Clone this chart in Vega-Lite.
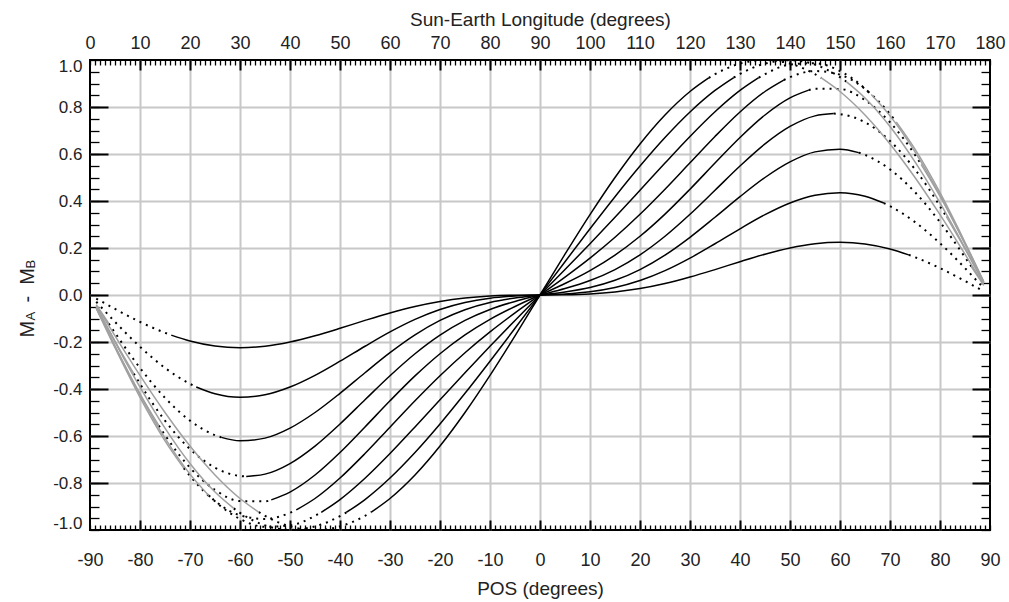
{
"$schema": "https://vega.github.io/schema/vega-lite/v6.json",
"width": 900, "height": 470,
"autosize": {"type": "none"},
"padding": {"left": 90, "top": 60, "right": 19, "bottom": 72},
"background": "white",
"config": {
 "view": {"stroke": "#000", "strokeWidth": 2},
 "axis": {"labelFont": "Liberation Sans", "titleFont": "Liberation Sans", "labelColor": "#222", "titleColor": "#222", "labelFontSize": 18, "titleFontSize": 19, "titleFontWeight": "normal", "domain": false, "grid": false, "ticks": false, "labels": false, "tickColor": "#000", "gridColor": "#c8c8c8", "gridWidth": 2, "title": null}
},
"datasets": {
 "solid": [
  {"curve":5,"pos":-73.75,"value":-0.1708},{"curve":5,"pos":-70,"value":-0.1958},{"curve":5,"pos":-65,"value":-0.2172},{"curve":5,"pos":-60,"value":-0.2243},{"curve":5,"pos":-55,"value":-0.2181},{"curve":5,"pos":-50,"value":-0.2002},{"curve":5,"pos":-45,"value":-0.1736},{"curve":5,"pos":-40,"value":-0.1418},{"curve":5,"pos":-35,"value":-0.1081},{"curve":5,"pos":-30,"value":-0.0763},{"curve":5,"pos":-25,"value":-0.0488},{"curve":5,"pos":-20,"value":-0.0274},{"curve":5,"pos":-15,"value":-0.0128},{"curve":5,"pos":-10,"value":-0.0044},{"curve":5,"pos":-5,"value":-0.0009},{"curve":5,"pos":0,"value":0},{"curve":5,"pos":5,"value":0.0009},{"curve":5,"pos":10,"value":0.0044},{"curve":5,"pos":15,"value":0.0128},{"curve":5,"pos":20,"value":0.0274},{"curve":5,"pos":25,"value":0.0488},{"curve":5,"pos":30,"value":0.0763},{"curve":5,"pos":35,"value":0.1081},{"curve":5,"pos":40,"value":0.1418},{"curve":5,"pos":45,"value":0.1736},{"curve":5,"pos":50,"value":0.2002},{"curve":5,"pos":55,"value":0.2181},{"curve":5,"pos":60,"value":0.2243},{"curve":5,"pos":65,"value":0.2172},{"curve":5,"pos":70,"value":0.1958},{"curve":5,"pos":73.75,"value":0.1708},
  {"curve":10,"pos":-68.75,"value":-0.3912},{"curve":10,"pos":-65,"value":-0.4203},{"curve":10,"pos":-60,"value":-0.4354},{"curve":10,"pos":-55,"value":-0.4247},{"curve":10,"pos":-50,"value":-0.3918},{"curve":10,"pos":-45,"value":-0.342},{"curve":10,"pos":-40,"value":-0.2818},{"curve":10,"pos":-35,"value":-0.2181},{"curve":10,"pos":-30,"value":-0.157},{"curve":10,"pos":-25,"value":-0.1037},{"curve":10,"pos":-20,"value":-0.0615},{"curve":10,"pos":-15,"value":-0.0318},{"curve":10,"pos":-10,"value":-0.0137},{"curve":10,"pos":-5,"value":-0.0044},{"curve":10,"pos":0,"value":0},{"curve":10,"pos":5,"value":0.0044},{"curve":10,"pos":10,"value":0.0137},{"curve":10,"pos":15,"value":0.0318},{"curve":10,"pos":20,"value":0.0615},{"curve":10,"pos":25,"value":0.1037},{"curve":10,"pos":30,"value":0.157},{"curve":10,"pos":35,"value":0.2181},{"curve":10,"pos":40,"value":0.2818},{"curve":10,"pos":45,"value":0.342},{"curve":10,"pos":50,"value":0.3918},{"curve":10,"pos":55,"value":0.4247},{"curve":10,"pos":60,"value":0.4354},{"curve":10,"pos":65,"value":0.4203},{"curve":10,"pos":68.75,"value":0.3912},
  {"curve":15,"pos":-63.75,"value":-0.6058},{"curve":15,"pos":-60,"value":-0.6205},{"curve":15,"pos":-55,"value":-0.6091},{"curve":15,"pos":-50,"value":-0.5664},{"curve":15,"pos":-45,"value":-0.5},{"curve":15,"pos":-40,"value":-0.4184},{"curve":15,"pos":-35,"value":-0.3307},{"curve":15,"pos":-30,"value":-0.2455},{"curve":15,"pos":-25,"value":-0.1698},{"curve":15,"pos":-20,"value":-0.1082},{"curve":15,"pos":-15,"value":-0.0625},{"curve":15,"pos":-10,"value":-0.0318},{"curve":15,"pos":-5,"value":-0.0128},{"curve":15,"pos":0,"value":0},{"curve":15,"pos":5,"value":0.0128},{"curve":15,"pos":10,"value":0.0318},{"curve":15,"pos":15,"value":0.0625},{"curve":15,"pos":20,"value":0.1082},{"curve":15,"pos":25,"value":0.1698},{"curve":15,"pos":30,"value":0.2455},{"curve":15,"pos":35,"value":0.3307},{"curve":15,"pos":40,"value":0.4184},{"curve":15,"pos":45,"value":0.5},{"curve":15,"pos":50,"value":0.5664},{"curve":15,"pos":55,"value":0.6091},{"curve":15,"pos":60,"value":0.6205},{"curve":15,"pos":63.75,"value":0.6058},
  {"curve":20,"pos":-58.75,"value":-0.7719},{"curve":20,"pos":-55,"value":-0.7623},{"curve":20,"pos":-50,"value":-0.7172},{"curve":20,"pos":-45,"value":-0.6428},{"curve":20,"pos":-40,"value":-0.5488},{"curve":20,"pos":-35,"value":-0.4457},{"curve":20,"pos":-30,"value":-0.3435},{"curve":20,"pos":-25,"value":-0.2499},{"curve":20,"pos":-20,"value":-0.1707},{"curve":20,"pos":-15,"value":-0.1082},{"curve":20,"pos":-10,"value":-0.0615},{"curve":20,"pos":-5,"value":-0.0274},{"curve":20,"pos":0,"value":0},{"curve":20,"pos":5,"value":0.0274},{"curve":20,"pos":10,"value":0.0615},{"curve":20,"pos":15,"value":0.1082},{"curve":20,"pos":20,"value":0.1707},{"curve":20,"pos":25,"value":0.2499},{"curve":20,"pos":30,"value":0.3435},{"curve":20,"pos":35,"value":0.4457},{"curve":20,"pos":40,"value":0.5488},{"curve":20,"pos":45,"value":0.6428},{"curve":20,"pos":50,"value":0.7172},{"curve":20,"pos":55,"value":0.7623},{"curve":20,"pos":58.75,"value":0.7719},
  {"curve":25,"pos":-53.75,"value":-0.8717},{"curve":25,"pos":-50,"value":-0.8386},{"curve":25,"pos":-45,"value":-0.766},{"curve":25,"pos":-40,"value":-0.6702},{"curve":25,"pos":-35,"value":-0.5615},{"curve":25,"pos":-30,"value":-0.4502},{"curve":25,"pos":-25,"value":-0.3443},{"curve":25,"pos":-20,"value":-0.2499},{"curve":25,"pos":-15,"value":-0.1698},{"curve":25,"pos":-10,"value":-0.1037},{"curve":25,"pos":-5,"value":-0.0488},{"curve":25,"pos":0,"value":0},{"curve":25,"pos":5,"value":0.0488},{"curve":25,"pos":10,"value":0.1037},{"curve":25,"pos":15,"value":0.1698},{"curve":25,"pos":20,"value":0.2499},{"curve":25,"pos":25,"value":0.3443},{"curve":25,"pos":30,"value":0.4502},{"curve":25,"pos":35,"value":0.5615},{"curve":25,"pos":40,"value":0.6702},{"curve":25,"pos":45,"value":0.766},{"curve":25,"pos":50,"value":0.8386},{"curve":25,"pos":53.75,"value":0.8717},
  {"curve":30,"pos":-48.75,"value":-0.9146},{"curve":30,"pos":-45,"value":-0.866},{"curve":30,"pos":-40,"value":-0.7788},{"curve":30,"pos":-35,"value":-0.6746},{"curve":30,"pos":-30,"value":-0.5625},{"curve":30,"pos":-25,"value":-0.4502},{"curve":30,"pos":-20,"value":-0.3435},{"curve":30,"pos":-15,"value":-0.2455},{"curve":30,"pos":-10,"value":-0.157},{"curve":30,"pos":-5,"value":-0.0763},{"curve":30,"pos":0,"value":0},{"curve":30,"pos":5,"value":0.0763},{"curve":30,"pos":10,"value":0.157},{"curve":30,"pos":15,"value":0.2455},{"curve":30,"pos":20,"value":0.3435},{"curve":30,"pos":25,"value":0.4502},{"curve":30,"pos":30,"value":0.5625},{"curve":30,"pos":35,"value":0.6746},{"curve":30,"pos":40,"value":0.7788},{"curve":30,"pos":45,"value":0.866},{"curve":30,"pos":48.75,"value":0.9146},
  {"curve":35,"pos":-43.75,"value":-0.9248},{"curve":35,"pos":-40,"value":-0.8704},{"curve":35,"pos":-35,"value":-0.7797},{"curve":35,"pos":-30,"value":-0.6746},{"curve":35,"pos":-25,"value":-0.5615},{"curve":35,"pos":-20,"value":-0.4457},{"curve":35,"pos":-15,"value":-0.3307},{"curve":35,"pos":-10,"value":-0.2181},{"curve":35,"pos":-5,"value":-0.1081},{"curve":35,"pos":0,"value":0},{"curve":35,"pos":5,"value":0.1081},{"curve":35,"pos":10,"value":0.2181},{"curve":35,"pos":15,"value":0.3307},{"curve":35,"pos":20,"value":0.4457},{"curve":35,"pos":25,"value":0.5615},{"curve":35,"pos":30,"value":0.6746},{"curve":35,"pos":35,"value":0.7797},{"curve":35,"pos":40,"value":0.8704},{"curve":35,"pos":43.75,"value":0.9248},
  {"curve":40,"pos":-38.75,"value":-0.9254},{"curve":40,"pos":-35,"value":-0.8704},{"curve":40,"pos":-30,"value":-0.7788},{"curve":40,"pos":-25,"value":-0.6702},{"curve":40,"pos":-20,"value":-0.5488},{"curve":40,"pos":-15,"value":-0.4184},{"curve":40,"pos":-10,"value":-0.2818},{"curve":40,"pos":-5,"value":-0.1418},{"curve":40,"pos":0,"value":0},{"curve":40,"pos":5,"value":0.1418},{"curve":40,"pos":10,"value":0.2818},{"curve":40,"pos":15,"value":0.4184},{"curve":40,"pos":20,"value":0.5488},{"curve":40,"pos":25,"value":0.6702},{"curve":40,"pos":30,"value":0.7788},{"curve":40,"pos":35,"value":0.8704},{"curve":40,"pos":38.75,"value":0.9254},
  {"curve":45,"pos":-33.75,"value":-0.9239},{"curve":45,"pos":-30,"value":-0.866},{"curve":45,"pos":-25,"value":-0.766},{"curve":45,"pos":-20,"value":-0.6428},{"curve":45,"pos":-15,"value":-0.5},{"curve":45,"pos":-10,"value":-0.342},{"curve":45,"pos":-5,"value":-0.1736},{"curve":45,"pos":0,"value":0},{"curve":45,"pos":5,"value":0.1736},{"curve":45,"pos":10,"value":0.342},{"curve":45,"pos":15,"value":0.5},{"curve":45,"pos":20,"value":0.6428},{"curve":45,"pos":25,"value":0.766},{"curve":45,"pos":30,"value":0.866},{"curve":45,"pos":33.75,"value":0.9239}
 ],
 "dotted": [
  {"curve":5,"side":"pos","pos":73.75,"value":0.1708},{"curve":5,"side":"pos","pos":75,"value":0.1608},{"curve":5,"side":"pos","pos":80,"value":0.1144},{"curve":5,"side":"pos","pos":85,"value":0.0593},{"curve":5,"side":"pos","pos":88.75,"value":0.0151},
  {"curve":5,"side":"neg","pos":-73.75,"value":-0.1708},{"curve":5,"side":"neg","pos":-75,"value":-0.1608},{"curve":5,"side":"neg","pos":-80,"value":-0.1144},{"curve":5,"side":"neg","pos":-85,"value":-0.0593},{"curve":5,"side":"neg","pos":-88.75,"value":-0.0151},
  {"curve":10,"side":"pos","pos":68.75,"value":0.3912},{"curve":10,"side":"pos","pos":70,"value":0.3781},{"curve":10,"side":"pos","pos":75,"value":0.3102},{"curve":10,"side":"pos","pos":80,"value":0.2203},{"curve":10,"side":"pos","pos":85,"value":0.1144},{"curve":10,"side":"pos","pos":88.75,"value":0.0289},
  {"curve":10,"side":"neg","pos":-68.75,"value":-0.3912},{"curve":10,"side":"neg","pos":-70,"value":-0.3781},{"curve":10,"side":"neg","pos":-75,"value":-0.3102},{"curve":10,"side":"neg","pos":-80,"value":-0.2203},{"curve":10,"side":"neg","pos":-85,"value":-0.1144},{"curve":10,"side":"neg","pos":-88.75,"value":-0.0289},
  {"curve":15,"side":"pos","pos":63.75,"value":0.6058},{"curve":15,"side":"pos","pos":65,"value":0.5962},{"curve":15,"side":"pos","pos":70,"value":0.5346},{"curve":15,"side":"pos","pos":75,"value":0.4375},{"curve":15,"side":"pos","pos":80,"value":0.3102},{"curve":15,"side":"pos","pos":85,"value":0.1608},{"curve":15,"side":"pos","pos":86.25,"value":0.1213},
  {"curve":15,"side":"neg","pos":-63.75,"value":-0.6058},{"curve":15,"side":"neg","pos":-65,"value":-0.5962},{"curve":15,"side":"neg","pos":-70,"value":-0.5346},{"curve":15,"side":"neg","pos":-75,"value":-0.4375},{"curve":15,"side":"neg","pos":-80,"value":-0.3102},{"curve":15,"side":"neg","pos":-85,"value":-0.1608},{"curve":15,"side":"neg","pos":-86.25,"value":-0.1213},
  {"curve":20,"side":"pos","pos":58.75,"value":0.7719},{"curve":20,"side":"pos","pos":60,"value":0.7699},{"curve":20,"side":"pos","pos":65,"value":0.7349},{"curve":20,"side":"pos","pos":70,"value":0.6557},{"curve":20,"side":"pos","pos":75,"value":0.5346},{"curve":20,"side":"pos","pos":80,"value":0.3781},{"curve":20,"side":"pos","pos":81.25,"value":0.3345},
  {"curve":20,"side":"neg","pos":-58.75,"value":-0.7719},{"curve":20,"side":"neg","pos":-60,"value":-0.7699},{"curve":20,"side":"neg","pos":-65,"value":-0.7349},{"curve":20,"side":"neg","pos":-70,"value":-0.6557},{"curve":20,"side":"neg","pos":-75,"value":-0.5346},{"curve":20,"side":"neg","pos":-80,"value":-0.3781},{"curve":20,"side":"neg","pos":-81.25,"value":-0.3345},
  {"curve":25,"side":"pos","pos":53.75,"value":0.8717},{"curve":25,"side":"pos","pos":55,"value":0.8781},{"curve":25,"side":"pos","pos":60,"value":0.8766},{"curve":25,"side":"pos","pos":65,"value":0.8293},{"curve":25,"side":"pos","pos":70,"value":0.7349},{"curve":25,"side":"pos","pos":75,"value":0.5962},{"curve":25,"side":"pos","pos":76.25,"value":0.5554},
  {"curve":25,"side":"neg","pos":-53.75,"value":-0.8717},{"curve":25,"side":"neg","pos":-55,"value":-0.8781},{"curve":25,"side":"neg","pos":-60,"value":-0.8766},{"curve":25,"side":"neg","pos":-65,"value":-0.8293},{"curve":25,"side":"neg","pos":-70,"value":-0.7349},{"curve":25,"side":"neg","pos":-75,"value":-0.5962},{"curve":25,"side":"neg","pos":-76.25,"value":-0.5554},
  {"curve":30,"side":"pos","pos":48.75,"value":0.9146},{"curve":30,"side":"pos","pos":50,"value":0.9268},{"curve":30,"side":"pos","pos":55,"value":0.953},{"curve":30,"side":"pos","pos":60,"value":0.9375},{"curve":30,"side":"pos","pos":65,"value":0.8766},{"curve":30,"side":"pos","pos":70,"value":0.7699},{"curve":30,"side":"pos","pos":71.25,"value":0.7363},
  {"curve":30,"side":"neg","pos":-48.75,"value":-0.9146},{"curve":30,"side":"neg","pos":-50,"value":-0.9268},{"curve":30,"side":"neg","pos":-55,"value":-0.953},{"curve":30,"side":"neg","pos":-60,"value":-0.9375},{"curve":30,"side":"neg","pos":-65,"value":-0.8766},{"curve":30,"side":"neg","pos":-70,"value":-0.7699},{"curve":30,"side":"neg","pos":-71.25,"value":-0.7363},
  {"curve":35,"side":"pos","pos":43.75,"value":0.9248},{"curve":35,"side":"pos","pos":45,"value":0.9397},{"curve":35,"side":"pos","pos":50,"value":0.9804},{"curve":35,"side":"pos","pos":55,"value":0.9863},{"curve":35,"side":"pos","pos":60,"value":0.953},{"curve":35,"side":"pos","pos":65,"value":0.8781},{"curve":35,"side":"pos","pos":66.25,"value":0.8529},
  {"curve":35,"side":"neg","pos":-43.75,"value":-0.9248},{"curve":35,"side":"neg","pos":-45,"value":-0.9397},{"curve":35,"side":"neg","pos":-50,"value":-0.9804},{"curve":35,"side":"neg","pos":-55,"value":-0.9863},{"curve":35,"side":"neg","pos":-60,"value":-0.953},{"curve":35,"side":"neg","pos":-65,"value":-0.8781},{"curve":35,"side":"neg","pos":-66.25,"value":-0.8529},
  {"curve":40,"side":"pos","pos":38.75,"value":0.9254},{"curve":40,"side":"pos","pos":40,"value":0.9406},{"curve":40,"side":"pos","pos":45,"value":0.9848},{"curve":40,"side":"pos","pos":50,"value":0.999},{"curve":40,"side":"pos","pos":55,"value":0.9804},{"curve":40,"side":"pos","pos":60,"value":0.9268},{"curve":40,"side":"pos","pos":61.25,"value":0.9081},
  {"curve":40,"side":"neg","pos":-38.75,"value":-0.9254},{"curve":40,"side":"neg","pos":-40,"value":-0.9406},{"curve":40,"side":"neg","pos":-45,"value":-0.9848},{"curve":40,"side":"neg","pos":-50,"value":-0.999},{"curve":40,"side":"neg","pos":-55,"value":-0.9804},{"curve":40,"side":"neg","pos":-60,"value":-0.9268},{"curve":40,"side":"neg","pos":-61.25,"value":-0.9081},
  {"curve":45,"side":"pos","pos":33.75,"value":0.9239},{"curve":45,"side":"pos","pos":35,"value":0.9397},{"curve":45,"side":"pos","pos":40,"value":0.9848},{"curve":45,"side":"pos","pos":45,"value":1},{"curve":45,"side":"pos","pos":50,"value":0.9848},{"curve":45,"side":"pos","pos":55,"value":0.9397},{"curve":45,"side":"pos","pos":56.25,"value":0.9239},
  {"curve":45,"side":"neg","pos":-33.75,"value":-0.9239},{"curve":45,"side":"neg","pos":-35,"value":-0.9397},{"curve":45,"side":"neg","pos":-40,"value":-0.9848},{"curve":45,"side":"neg","pos":-45,"value":-1},{"curve":45,"side":"neg","pos":-50,"value":-0.9848},{"curve":45,"side":"neg","pos":-55,"value":-0.9397},{"curve":45,"side":"neg","pos":-56.25,"value":-0.9239}
 ],
 "gray": [
  {"curve":15,"side":"pos","pos":86.25,"value":0.1213},{"curve":15,"side":"pos","pos":88.75,"value":0.0407},
  {"curve":15,"side":"neg","pos":-86.25,"value":-0.1213},{"curve":15,"side":"neg","pos":-88.75,"value":-0.0407},
  {"curve":20,"side":"pos","pos":81.25,"value":0.3345},{"curve":20,"side":"pos","pos":85,"value":0.1958},{"curve":20,"side":"pos","pos":88.75,"value":0.0495},
  {"curve":20,"side":"neg","pos":-81.25,"value":-0.3345},{"curve":20,"side":"neg","pos":-85,"value":-0.1958},{"curve":20,"side":"neg","pos":-88.75,"value":-0.0495},
  {"curve":25,"side":"pos","pos":76.25,"value":0.5554},{"curve":25,"side":"pos","pos":80,"value":0.4203},{"curve":25,"side":"pos","pos":85,"value":0.2172},{"curve":25,"side":"pos","pos":88.75,"value":0.0549},
  {"curve":25,"side":"neg","pos":-76.25,"value":-0.5554},{"curve":25,"side":"neg","pos":-80,"value":-0.4203},{"curve":25,"side":"neg","pos":-85,"value":-0.2172},{"curve":25,"side":"neg","pos":-88.75,"value":-0.0549},
  {"curve":30,"side":"pos","pos":71.25,"value":0.7363},{"curve":30,"side":"pos","pos":75,"value":0.6205},{"curve":30,"side":"pos","pos":80,"value":0.4354},{"curve":30,"side":"pos","pos":85,"value":0.2243},{"curve":30,"side":"pos","pos":88.75,"value":0.0567},
  {"curve":30,"side":"neg","pos":-71.25,"value":-0.7363},{"curve":30,"side":"neg","pos":-75,"value":-0.6205},{"curve":30,"side":"neg","pos":-80,"value":-0.4354},{"curve":30,"side":"neg","pos":-85,"value":-0.2243},{"curve":30,"side":"neg","pos":-88.75,"value":-0.0567},
  {"curve":35,"side":"pos","pos":66.25,"value":0.8529},{"curve":35,"side":"pos","pos":70,"value":0.7623},{"curve":35,"side":"pos","pos":75,"value":0.6091},{"curve":35,"side":"pos","pos":80,"value":0.4247},{"curve":35,"side":"pos","pos":85,"value":0.2181},{"curve":35,"side":"pos","pos":88.75,"value":0.055},
  {"curve":35,"side":"neg","pos":-66.25,"value":-0.8529},{"curve":35,"side":"neg","pos":-70,"value":-0.7623},{"curve":35,"side":"neg","pos":-75,"value":-0.6091},{"curve":35,"side":"neg","pos":-80,"value":-0.4247},{"curve":35,"side":"neg","pos":-85,"value":-0.2181},{"curve":35,"side":"neg","pos":-88.75,"value":-0.055},
  {"curve":40,"side":"pos","pos":61.25,"value":0.9081},{"curve":40,"side":"pos","pos":65,"value":0.8386},{"curve":40,"side":"pos","pos":70,"value":0.7172},{"curve":40,"side":"pos","pos":75,"value":0.5664},{"curve":40,"side":"pos","pos":80,"value":0.3918},{"curve":40,"side":"pos","pos":85,"value":0.2002},{"curve":40,"side":"pos","pos":88.75,"value":0.0504},
  {"curve":40,"side":"neg","pos":-61.25,"value":-0.9081},{"curve":40,"side":"neg","pos":-65,"value":-0.8386},{"curve":40,"side":"neg","pos":-70,"value":-0.7172},{"curve":40,"side":"neg","pos":-75,"value":-0.5664},{"curve":40,"side":"neg","pos":-80,"value":-0.3918},{"curve":40,"side":"neg","pos":-85,"value":-0.2002},{"curve":40,"side":"neg","pos":-88.75,"value":-0.0504},
  {"curve":45,"side":"pos","pos":56.25,"value":0.9239},{"curve":45,"side":"pos","pos":60,"value":0.866},{"curve":45,"side":"pos","pos":65,"value":0.766},{"curve":45,"side":"pos","pos":70,"value":0.6428},{"curve":45,"side":"pos","pos":75,"value":0.5},{"curve":45,"side":"pos","pos":80,"value":0.342},{"curve":45,"side":"pos","pos":85,"value":0.1736},{"curve":45,"side":"pos","pos":88.75,"value":0.0436},
  {"curve":45,"side":"neg","pos":-56.25,"value":-0.9239},{"curve":45,"side":"neg","pos":-60,"value":-0.866},{"curve":45,"side":"neg","pos":-65,"value":-0.766},{"curve":45,"side":"neg","pos":-70,"value":-0.6428},{"curve":45,"side":"neg","pos":-75,"value":-0.5},{"curve":45,"side":"neg","pos":-80,"value":-0.342},{"curve":45,"side":"neg","pos":-85,"value":-0.1736},{"curve":45,"side":"neg","pos":-88.75,"value":-0.0436}
 ]
},
"layer": [
 {
  "data": {"name": "solid"},
  "mark": {"type": "line", "color": "#000", "strokeWidth": 1.5, "interpolate": "monotone"},
  "encoding": {
   "x": {"field": "pos", "type": "quantitative", "scale": {"domain": [-90, 90], "nice": false, "zero": false},
    "axis": {"orient": "bottom", "labels": true, "values": [-90,-80,-70,-60,-50,-40,-30,-20,-10,0,10,20,30,40,50,60,70,80,90], "labelPadding": 21, "labelFlush": false, "labelOverlap": false, "labelExpr": "replace(datum.label, '\u2212', '-')", "title": "POS (degrees)", "titleY": 64, "titleBaseline": "alphabetic"}},
   "y": {"field": "value", "type": "quantitative", "scale": {"domain": [-1, 1], "nice": false, "zero": false},
    "axis": {"orient": "left", "labels": true, "values": [-1,-0.8,-0.6,-0.4,-0.2,0,0.2,0.4,0.6,0.8,1], "format": ".1f", "labelFontSize": 17, "labelPadding": 8, "labelFlush": true, "labelFlushOffset": 2, "labelOverlap": false, "labelExpr": "replace(datum.label, '\u2212', '-')", "title": "M", "titleFontSize": 20, "titleAngle": 270, "titleX": -57, "titleY": 277, "titleAlign": "left", "titleBaseline": "alphabetic"}},
   "detail": {"field": "curve", "type": "nominal"}
  }
 },
 {
  "data": {"name": "dotted"},
  "mark": {"type": "line", "color": "#000", "strokeWidth": 2, "strokeDash": [2, 5], "interpolate": "monotone"},
  "encoding": {
   "x": {"field": "pos", "type": "quantitative", "scale": {"domain": [-90, 90], "nice": false, "zero": false},
    "axis": {"orient": "top", "labels": true, "values": [-90,-80,-70,-60,-50,-40,-30,-20,-10,0,10,20,30,40,50,60,70,80,90], "labelPadding": 8, "labelFlush": false, "labelOverlap": false, "labelExpr": "format(datum.value + 90, 'd')", "title": "Sun-Earth Longitude (degrees)", "titleY": -35, "titleBaseline": "alphabetic"}},
   "y": {"field": "value", "type": "quantitative", "scale": {"domain": [-1, 1], "nice": false, "zero": false},
    "axis": {"orient": "left", "values": [-0.8,-0.6,-0.4,-0.2,0,0.2,0.4,0.6,0.8], "ticks": true, "tickSize": 18, "tickWidth": 2, "offset": -18, "grid": true}},
   "detail": [{"field": "curve", "type": "nominal"}, {"field": "side", "type": "nominal"}]
  }
 },
 {
  "data": {"name": "gray"},
  "mark": {"type": "line", "color": "#a0a0a0", "strokeWidth": 1.5, "interpolate": "monotone"},
  "encoding": {
   "x": {"field": "pos", "type": "quantitative", "scale": {"domain": [-90, 90], "nice": false, "zero": false},
    "axis": {"orient": "bottom", "values": [-80,-70,-60,-50,-40,-30,-20,-10,0,10,20,30,40,50,60,70,80], "ticks": true, "tickSize": 10, "tickWidth": 2, "offset": -10, "grid": true}},
   "y": {"field": "value", "type": "quantitative", "scale": {"domain": [-1, 1], "nice": false, "zero": false},
    "axis": {"orient": "left", "tickCount": 40, "ticks": true, "tickSize": 9, "tickWidth": 1.3, "offset": -9}},
   "detail": [{"field": "curve", "type": "nominal"}, {"field": "side", "type": "nominal"}]
  }
 },
 {
  "data": {"name": "gray"},
  "mark": {"type": "line", "opacity": 0},
  "encoding": {
   "x": {"field": "pos", "type": "quantitative", "scale": {"domain": [-90, 90], "nice": false, "zero": false},
    "axis": {"orient": "bottom", "tickCount": 180, "ticks": true, "tickSize": 5, "tickWidth": 1.3, "offset": -5}},
   "y": {"field": "value", "type": "quantitative", "scale": {"domain": [-1, 1], "nice": false, "zero": false},
    "axis": {"orient": "right", "values": [-0.8,-0.6,-0.4,-0.2,0,0.2,0.4,0.6,0.8], "ticks": true, "tickSize": 18, "tickWidth": 2, "offset": -18}},
   "detail": [{"field": "curve", "type": "nominal"}, {"field": "side", "type": "nominal"}]
  }
 },
 {
  "data": {"name": "gray"},
  "mark": {"type": "line", "opacity": 0},
  "encoding": {
   "x": {"field": "pos", "type": "quantitative", "scale": {"domain": [-90, 90], "nice": false, "zero": false},
    "axis": {"orient": "top", "values": [-80,-70,-60,-50,-40,-30,-20,-10,0,10,20,30,40,50,60,70,80], "ticks": true, "tickSize": 10, "tickWidth": 2, "offset": -10}},
   "y": {"field": "value", "type": "quantitative", "scale": {"domain": [-1, 1], "nice": false, "zero": false},
    "axis": {"orient": "right", "tickCount": 40, "ticks": true, "tickSize": 9, "tickWidth": 1.3, "offset": -9}},
   "detail": [{"field": "curve", "type": "nominal"}, {"field": "side", "type": "nominal"}]
  }
 },
 {
  "data": {"name": "gray"},
  "mark": {"type": "line", "opacity": 0},
  "encoding": {
   "x": {"field": "pos", "type": "quantitative", "scale": {"domain": [-90, 90], "nice": false, "zero": false},
    "axis": {"orient": "top", "tickCount": 180, "ticks": true, "tickSize": 5, "tickWidth": 1.3, "offset": -5}},
   "y": {"field": "value", "type": "quantitative", "scale": {"domain": [-1, 1], "nice": false, "zero": false},
    "axis": {"orient": "left", "title": "A", "titleFontSize": 13, "titleAngle": 270, "titleX": -56, "titleY": 260, "titleAlign": "left", "titleBaseline": "alphabetic"}},
   "detail": [{"field": "curve", "type": "nominal"}, {"field": "side", "type": "nominal"}]
  }
 },
 {
  "data": {"name": "gray"},
  "mark": {"type": "line", "opacity": 0},
  "encoding": {
   "x": {"field": "pos", "type": "quantitative", "scale": {"domain": [-90, 90], "nice": false, "zero": false}, "axis": null},
   "y": {"field": "value", "type": "quantitative", "scale": {"domain": [-1, 1], "nice": false, "zero": false},
    "axis": {"orient": "left", "title": "-\u00a0\u00a0M", "titleFontSize": 20, "titleAngle": 270, "titleX": -57, "titleY": 242, "titleAlign": "left", "titleBaseline": "alphabetic"}},
   "detail": [{"field": "curve", "type": "nominal"}, {"field": "side", "type": "nominal"}]
  }
 },
 {
  "data": {"name": "gray"},
  "mark": {"type": "line", "opacity": 0},
  "encoding": {
   "x": {"field": "pos", "type": "quantitative", "scale": {"domain": [-90, 90], "nice": false, "zero": false}, "axis": null},
   "y": {"field": "value", "type": "quantitative", "scale": {"domain": [-1, 1], "nice": false, "zero": false},
    "axis": {"orient": "left", "title": "B", "titleFontSize": 13, "titleAngle": 270, "titleX": -56, "titleY": 208, "titleAlign": "left", "titleBaseline": "alphabetic"}},
   "detail": [{"field": "curve", "type": "nominal"}, {"field": "side", "type": "nominal"}]
  }
 }
],
"resolve": {"axis": {"x": "independent", "y": "independent"}}
}
